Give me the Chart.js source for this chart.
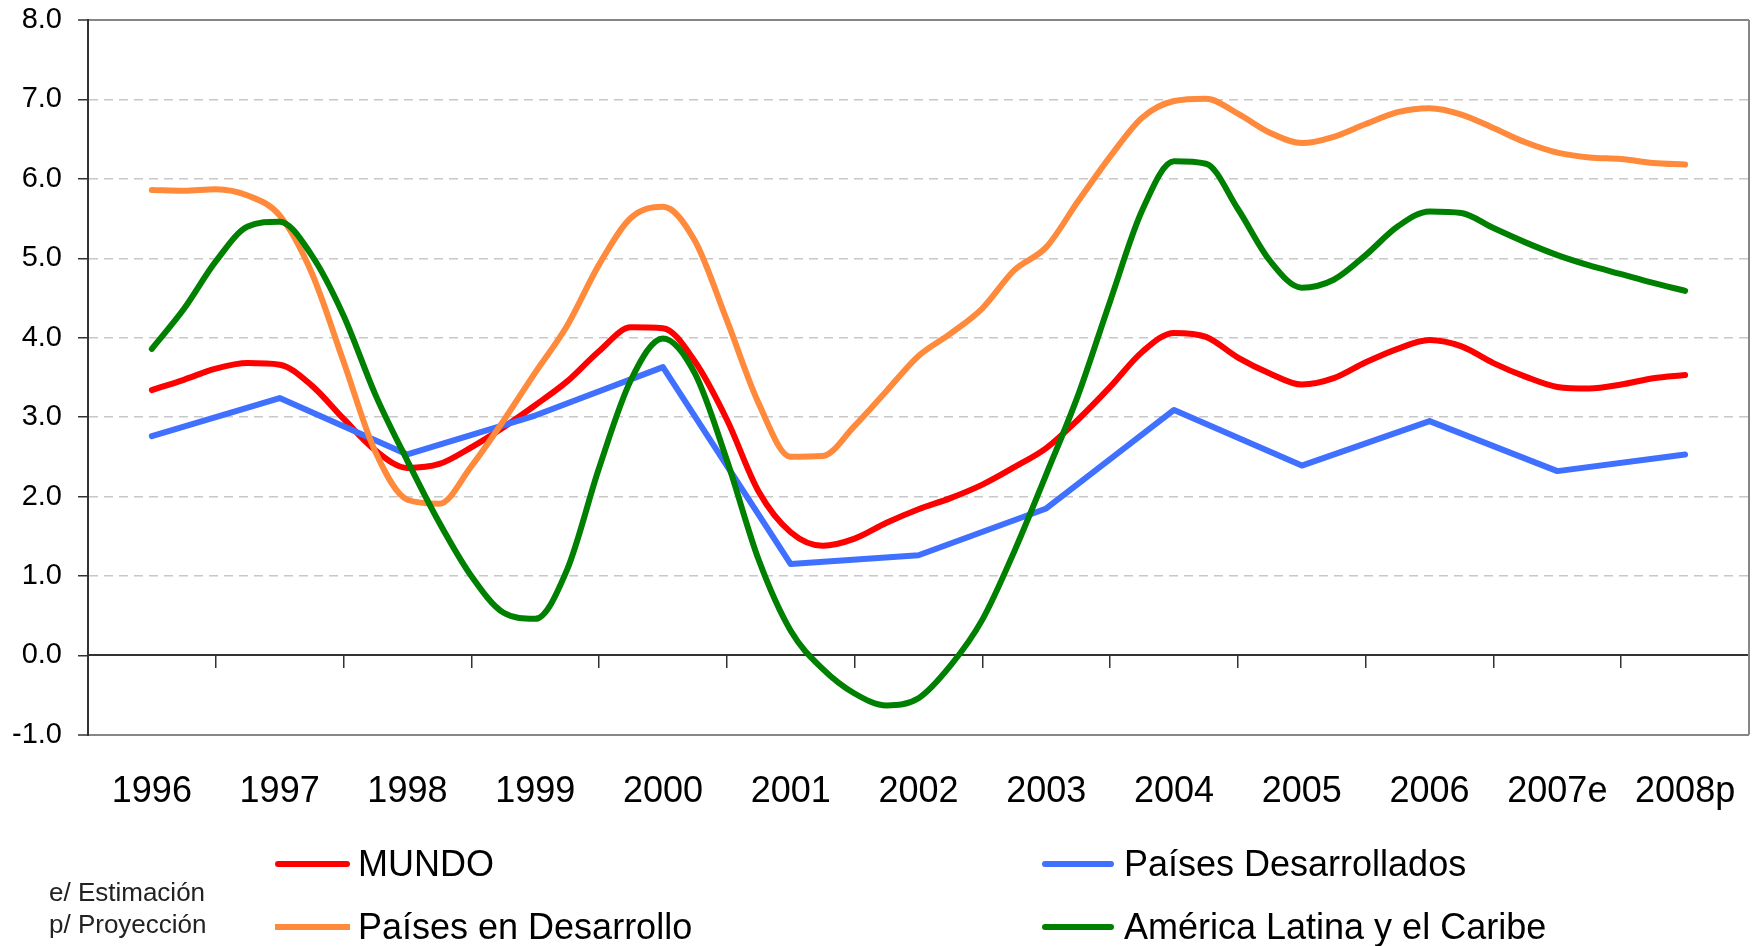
<!doctype html>
<html lang="es">
<head>
<meta charset="utf-8">
<title>Crecimiento económico 1996-2008</title>
<script src="https://cdn.jsdelivr.net/npm/chart.js"></script>
<style>
    body { margin: 0; background: #fff; font-family: "Liberation Sans", Arial, sans-serif; }
    #wrap { position: relative; width: 1757px; height: 946px; }
    .row { position: absolute; height: 36px; display: flex; align-items: center; font-size: 36px; line-height: 36px; color: #000; white-space: nowrap; }
    .swatch { height: 6px; border-radius: 3px; }
    .note { position: absolute; left: 49px; top: 876px; font-size: 26px; line-height: 32px; color: #222; }
</style>
</head>
<body>
<div id="wrap">
    <canvas id="myCanvas" width="1757" height="946"></canvas>

    <div class="row" style="left:275px; top:846px">
        <div class="swatch" style="width:75px; background:#FF0000; margin-right:8px"></div>MUNDO
    </div>
    <div class="row" style="left:275px; top:909px">
        <div class="swatch" style="width:75px; background:#FF8A3C; border-radius:0; margin-right:8px"></div>Países en Desarrollo
    </div>
    <div class="row" style="left:1042px; top:846px">
        <div class="swatch" style="width:72px; background:#4070FF; margin-right:10px"></div>Países Desarrollados
    </div>
    <div class="row" style="left:1042px; top:909px">
        <div class="swatch" style="width:72px; background:#008000; margin-right:10px"></div>América Latina y el Caribe
    </div>

    <div class="note">e/ Estimación<br>p/ Proyección</div>
</div>

<script>
    const yearLabels = ['1996', '1997', '1998', '1999', '2000', '2001', '2002',
        '2003', '2004', '2005', '2006', '2007e', '2008p'];
    const years = [1996, 1997, 1998, 1999, 2000, 2001, 2002, 2003, 2004, 2005, 2006, 2007, 2008];

    // quarterly positions the smooth curves were read at
    const quarters = [
        1996, 1996.25, 1996.5, 1996.75, 1997, 1997.25, 1997.5, 1997.75,
        1998, 1998.25, 1998.5, 1998.75, 1999, 1999.25, 1999.5, 1999.75,
        2000, 2000.25, 2000.5, 2000.75, 2001, 2001.25, 2001.5, 2001.75,
        2002, 2002.25, 2002.5, 2002.75, 2003, 2003.25, 2003.5, 2003.75,
        2004, 2004.25, 2004.5, 2004.75, 2005, 2005.25, 2005.5, 2005.75,
        2006, 2006.25, 2006.5, 2006.75, 2007, 2007.25, 2007.5, 2007.75,
        2008
    ];

    const mundo = [
        3.34, 3.47, 3.61, 3.68, 3.66, 3.40, 2.98, 2.58,
        2.36, 2.41, 2.62, 2.87, 3.15, 3.45, 3.83, 4.13,
        4.12, 3.70, 2.97, 2.06, 1.55, 1.38, 1.47, 1.67,
        1.84, 1.98, 2.15, 2.37, 2.61, 2.97, 3.38, 3.82,
        4.06, 4.01, 3.75, 3.55, 3.41, 3.49, 3.69, 3.86,
        3.97, 3.89, 3.68, 3.51, 3.38, 3.36, 3.41, 3.49,
        3.53
    ];

    const enDesarrollo = [
        5.86, 5.85, 5.87, 5.79, 5.54, 4.82, 3.70, 2.56,
        1.96, 1.91, 2.38, 2.95, 3.56, 4.15, 4.92, 5.51,
        5.65, 5.22, 4.22, 3.17, 2.50, 2.51, 2.89, 3.33,
        3.77, 4.05, 4.37, 4.85, 5.14, 5.72, 6.28, 6.77,
        6.98, 7.01, 6.82, 6.58, 6.45, 6.53, 6.69, 6.84,
        6.89, 6.81, 6.64, 6.46, 6.33, 6.27, 6.25, 6.20,
        6.18
    ];

    const americaLatina = [
        3.86, 4.36, 4.96, 5.40, 5.46, 5.04, 4.28, 3.28,
        2.45, 1.67, 1.00, 0.54, 0.46, 1.08, 2.36, 3.47,
        3.99, 3.55, 2.46, 1.20, 0.31, -0.17, -0.48, -0.63,
        -0.54, -0.13, 0.45, 1.31, 2.28, 3.28, 4.46, 5.60,
        6.22, 6.19, 5.62, 4.97, 4.63, 4.73, 5.04, 5.40,
        5.59, 5.57, 5.38, 5.20, 5.04, 4.91, 4.80, 4.69,
        4.59
    ];

    // yearly, straight segments
    const desarrollados = [2.76, 3.24, 2.53, 3.02, 3.63, 1.15, 1.26, 1.85, 3.09, 2.39, 2.95, 2.32, 2.53];

    const font = '"Liberation Sans", Arial, sans-serif';
    const pts = (xs, ys) => xs.map((x, i) => ({x: x, y: ys[i]}));

    const lineStyle = {
        xAxisID: 'x',
        yAxisID: 'y',
        borderWidth: 6,
        pointRadius: 0,
        fill: false,
        borderCapStyle: 'round',
        borderJoinStyle: 'round'
    };

    // right edge of the plot frame
    const frame = {
        id: 'frame',
        beforeDatasetsDraw(chart) {
            const {ctx, chartArea} = chart;
            ctx.save();
            ctx.strokeStyle = '#868686';
            ctx.lineWidth = 2;
            ctx.beginPath();
            ctx.moveTo(chartArea.right, chartArea.top);
            ctx.lineTo(chartArea.right, chartArea.bottom);
            ctx.stroke();
            ctx.restore();
        }
    };

    var canvas = document.getElementById('myCanvas');

    new Chart(canvas, {
        type: 'line',
        data: {
            datasets: [
                Object.assign({}, lineStyle, {
                    label: 'América Latina y el Caribe',
                    data: pts(quarters, americaLatina),
                    borderColor: '#008000',
                    cubicInterpolationMode: 'monotone'
                }),
                Object.assign({}, lineStyle, {
                    label: 'Países en Desarrollo',
                    data: pts(quarters, enDesarrollo),
                    borderColor: '#FF8A3C',
                    cubicInterpolationMode: 'monotone'
                }),
                Object.assign({}, lineStyle, {
                    label: 'Países Desarrollados',
                    data: pts(years, desarrollados),
                    borderColor: '#4070FF',
                    tension: 0
                }),
                Object.assign({}, lineStyle, {
                    label: 'MUNDO',
                    data: pts(quarters, mundo),
                    borderColor: '#FF0000',
                    cubicInterpolationMode: 'monotone'
                })
            ]
        },
        options: {
            responsive: false,
            animation: false,
            layout: {padding: {left: -4, right: 8, top: 20, bottom: 132}},
            plugins: {
                legend: {display: false},
                tooltip: {enabled: false}
            },
            scales: {
                x: {type: 'linear', min: 1995.5, max: 2008.5, display: false},
                xTicks: {
                    type: 'category',
                    labels: yearLabels,
                    position: {y: 0},
                    offset: true,
                    grid: {offset: true, drawOnChartArea: false, tickLength: 12, color: '#333', lineWidth: 1.5},
                    border: {color: '#333', width: 2},
                    ticks: {display: false}
                },
                xLabels: {
                    type: 'category',
                    labels: yearLabels,
                    position: 'bottom',
                    offset: true,
                    grid: {display: false, drawTicks: true, tickLength: 36},
                    border: {display: false},
                    ticks: {
                        padding: 0,
                        color: '#000',
                        maxRotation: 0,
                        autoSkip: false,
                        font: {family: font, size: 36}
                    }
                },
                y: {
                    min: -1,
                    max: 8,
                    // let the layout padding alone decide the plot's top and bottom
                    afterFit: s => { s.paddingTop = 0; s.paddingBottom = 0; },
                    ticks: {
                        stepSize: 1,
                        padding: 16,
                        color: '#000',
                        font: {family: font, size: 29},
                        callback: v => v.toFixed(1)
                    },
                    grid: {
                        color: c => {
                            const v = c.tick.value;
                            if (v === 8 || v === -1) return '#868686';
                            if (v === 0) return 'rgba(0,0,0,0)';
                            return '#c8c8c8';
                        },
                        lineWidth: c => (c.tick.value === 8 || c.tick.value === -1) ? 2 : 1.5,
                        tickColor: '#333',
                        tickLength: 10,
                        tickWidth: 1.5
                    },
                    border: {
                        color: '#333',
                        width: 2,
                        dash: c => (c.tick && c.tick.value > -1 && c.tick.value < 8) ? [9, 6] : []
                    }
                }
            }
        },
        plugins: [frame]
    });
</script>
</body>
</html>
